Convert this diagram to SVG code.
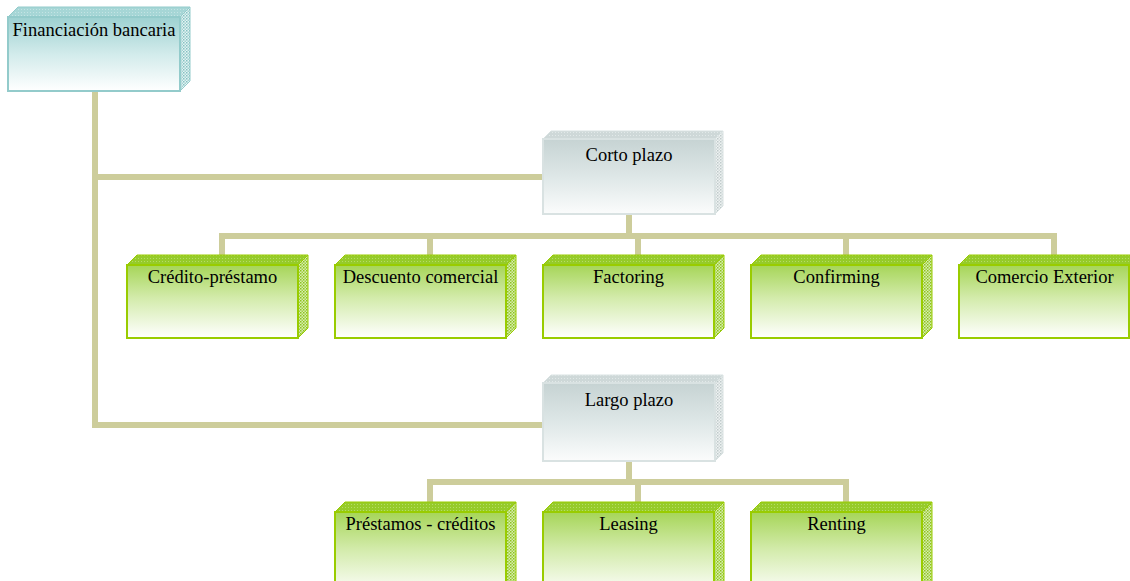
<svg xmlns="http://www.w3.org/2000/svg" width="1130" height="581" viewBox="0 0 1130 581">
  <defs>
    <!-- front-face fills -->
    <linearGradient id="gGreen" x1="0" y1="0" x2="0" y2="1">
      <stop offset="0" stop-color="#A6D558"/>
      <stop offset="0.45" stop-color="#D3EBAB"/>
      <stop offset="1" stop-color="#FFFFFF"/>
    </linearGradient>
    <linearGradient id="gTeal" x1="0" y1="0" x2="0" y2="1">
      <stop offset="0" stop-color="#9DD1D1"/>
      <stop offset="0.5" stop-color="#D2EBEB"/>
      <stop offset="1" stop-color="#FFFFFF"/>
    </linearGradient>
    <linearGradient id="gGray" x1="0" y1="0" x2="0" y2="1">
      <stop offset="0" stop-color="#C6D3D3"/>
      <stop offset="0.5" stop-color="#DEE7E7"/>
      <stop offset="1" stop-color="#FBFCFC"/>
    </linearGradient>
    <!-- textured bevel faces -->
    <pattern id="pGreenTop" width="3" height="3" patternUnits="userSpaceOnUse">
      <rect width="3" height="3" fill="#96CB2A"/>
      <rect width="1" height="1" fill="#B5DC66"/>
    </pattern>
    <pattern id="pGreenSide" width="3" height="3" patternUnits="userSpaceOnUse">
      <rect width="3" height="3" fill="#D9EDB2"/>
      <rect width="1.5" height="1.5" fill="#8CC21C"/>
      <rect x="1.5" y="1.5" width="1.5" height="1.5" fill="#9FD03D"/>
    </pattern>
    <pattern id="pTealTop" width="3" height="3" patternUnits="userSpaceOnUse">
      <rect width="3" height="3" fill="#A6D6D6"/>
      <rect width="1" height="1" fill="#C4E4E4"/>
    </pattern>
    <pattern id="pTealSide" width="3" height="3" patternUnits="userSpaceOnUse">
      <rect width="3" height="3" fill="#E4F3F3"/>
      <rect width="1.5" height="1.5" fill="#84C2C2"/>
      <rect x="1.5" y="1.5" width="1.5" height="1.5" fill="#A2D2D2"/>
    </pattern>
    <pattern id="pGrayTop" width="3" height="3" patternUnits="userSpaceOnUse">
      <rect width="3" height="3" fill="#CED8D8"/>
      <rect width="1" height="1" fill="#E2E9E9"/>
    </pattern>
    <pattern id="pGraySide" width="3" height="3" patternUnits="userSpaceOnUse">
      <rect width="3" height="3" fill="#EEF2F2"/>
      <rect width="1.5" height="1.5" fill="#BFCACA"/>
      <rect x="1.5" y="1.5" width="1.5" height="1.5" fill="#D2DADA"/>
    </pattern>
  </defs>
  <style>
    .wire { fill: none; stroke: #CDCD9B; stroke-width: 6; stroke-linejoin: miter; stroke-linecap: butt; }
    .lbl { font-family: "Liberation Serif", "Times New Roman", serif; font-size: 18.5px; fill: #000; text-anchor: middle; }
    .green .front { fill: url(#gGreen); stroke: #99CC00; stroke-width: 2; }
    .green .top { fill: url(#pGreenTop); stroke: #99CC00; stroke-width: 1; }
    .green .side { fill: url(#pGreenSide); stroke: #99CC00; stroke-width: 1; }
    .teal .front { fill: url(#gTeal); stroke: #93CBCB; stroke-width: 2; }
    .teal .top { fill: url(#pTealTop); stroke: #93CBCB; stroke-width: 1; }
    .teal .side { fill: url(#pTealSide); stroke: #93CBCB; stroke-width: 1; }
    .gray .front { fill: url(#gGray); stroke: #D9E2E2; stroke-width: 2; }
    .gray .top { fill: url(#pGrayTop); stroke: #D9E2E2; stroke-width: 1; }
    .gray .side { fill: url(#pGraySide); stroke: #D9E2E2; stroke-width: 1; }
  </style>

  <rect width="1130" height="581" fill="#FFFFFF"/>

  <!-- connectors -->
  <g id="connectors">
    <path class="wire" d="M95,91 V425 H543"/>
    <path class="wire" d="M95,177 H543"/>
    <path class="wire" d="M629,214 V236"/>
    <path class="wire" d="M222,255 V236 H1054 V255"/>
    <path class="wire" d="M430,236 V255"/>
    <path class="wire" d="M638,236 V255"/>
    <path class="wire" d="M846,236 V255"/>
    <path class="wire" d="M629,461 V482"/>
    <path class="wire" d="M430,502 V482 H846 V502"/>
    <path class="wire" d="M638,482 V502"/>
  </g>

  <!-- root -->
  <g id="financiacion-bancaria" class="teal">
    <polygon class="top" points="8,17 18,7 190,7 180,17"/>
    <polygon class="side" points="180,17 190,7 190,81 180,91"/>
    <rect class="front" x="8" y="17" width="172" height="74"/>
    <text class="lbl" x="94" y="36">Financiación bancaria</text>
  </g>

  <!-- term groups -->
  <g id="corto-plazo" class="gray">
    <polygon class="top" points="543,139 551,131 723,131 715,139"/>
    <polygon class="side" points="715,139 723,131 723,206 715,214"/>
    <rect class="front" x="543" y="139" width="172" height="75"/>
    <text class="lbl" x="629" y="161">Corto plazo</text>
  </g>
  <g id="largo-plazo" class="gray">
    <polygon class="top" points="543,383 551,375 723,375 715,383"/>
    <polygon class="side" points="715,383 723,375 723,453 715,461"/>
    <rect class="front" x="543" y="383" width="172" height="78"/>
    <text class="lbl" x="629" y="406">Largo plazo</text>
  </g>

  <!-- short-term products -->
  <g id="credito-prestamo" class="green">
    <polygon class="top" points="127,265 137,255 308,255 298,265"/>
    <polygon class="side" points="298,265 308,255 308,328 298,338"/>
    <rect class="front" x="127" y="265" width="171" height="73"/>
    <text class="lbl" x="212.5" y="283">Crédito-préstamo</text>
  </g>
  <g id="descuento-comercial" class="green">
    <polygon class="top" points="335,265 345,255 516,255 506,265"/>
    <polygon class="side" points="506,265 516,255 516,328 506,338"/>
    <rect class="front" x="335" y="265" width="171" height="73"/>
    <text class="lbl" x="420.5" y="283">Descuento comercial</text>
  </g>
  <g id="factoring" class="green">
    <polygon class="top" points="543,265 553,255 724,255 714,265"/>
    <polygon class="side" points="714,265 724,255 724,328 714,338"/>
    <rect class="front" x="543" y="265" width="171" height="73"/>
    <text class="lbl" x="628.5" y="283">Factoring</text>
  </g>
  <g id="confirming" class="green">
    <polygon class="top" points="751,265 761,255 932,255 922,265"/>
    <polygon class="side" points="922,265 932,255 932,328 922,338"/>
    <rect class="front" x="751" y="265" width="171" height="73"/>
    <text class="lbl" x="836.5" y="283">Confirming</text>
  </g>
  <g id="comercio-exterior" class="green">
    <polygon class="top" points="959,265 969,255 1140,255 1130,265"/>
    <polygon class="side" points="1130,265 1140,255 1140,328 1130,338"/>
    <rect class="front" x="959" y="265" width="170" height="73"/>
    <text class="lbl" x="1044.5" y="283">Comercio Exterior</text>
  </g>

  <!-- long-term products -->
  <g id="prestamos-creditos" class="green">
    <polygon class="top" points="335,512 345,502 516,502 506,512"/>
    <polygon class="side" points="506,512 516,502 516,585 506,595"/>
    <rect class="front" x="335" y="512" width="171" height="83"/>
    <text class="lbl" x="420.5" y="530">Préstamos - créditos</text>
  </g>
  <g id="leasing" class="green">
    <polygon class="top" points="543,512 553,502 724,502 714,512"/>
    <polygon class="side" points="714,512 724,502 724,585 714,595"/>
    <rect class="front" x="543" y="512" width="171" height="83"/>
    <text class="lbl" x="628.5" y="530">Leasing</text>
  </g>
  <g id="renting" class="green">
    <polygon class="top" points="751,512 761,502 932,502 922,512"/>
    <polygon class="side" points="922,512 932,502 932,585 922,595"/>
    <rect class="front" x="751" y="512" width="171" height="83"/>
    <text class="lbl" x="836.5" y="530">Renting</text>
  </g>
</svg>
